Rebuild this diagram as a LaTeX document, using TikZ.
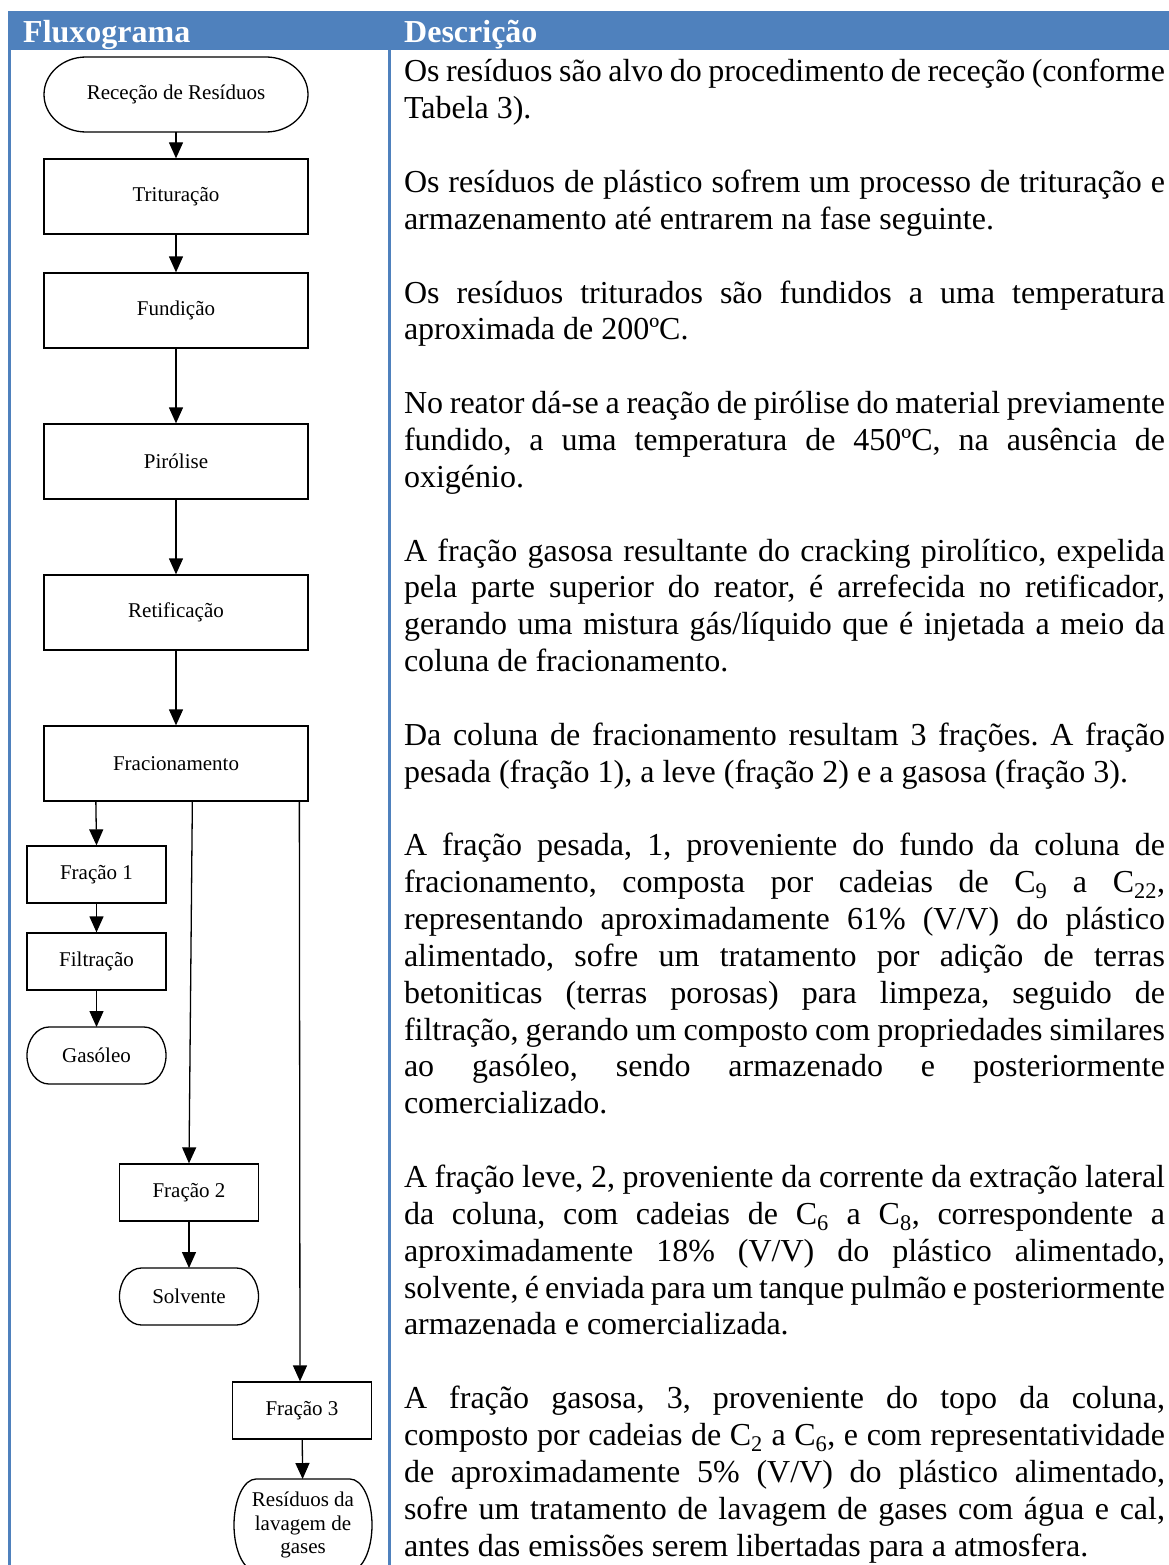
\documentclass[tikz,border=0pt]{standalone}
\usepackage{fontspec}
\setmainfont{Liberation Serif}
\usetikzlibrary{arrows.meta}
\frenchspacing
\definecolor{hdrblue}{RGB}{79,129,189}
\newcommand\descfont{\fontsize{32}{36.85}\selectfont\spaceskip=8pt plus 16pt minus 3pt\relax}
\newcommand\boxfont{\fontsize{21}{23.5}\selectfont}
% justified description line: name, line index, text
\newcommand\jl[3]{\node[desc] (#1) at (404,{82+#2*36.85}) {\makebox[761pt][s]{#3}};}
% last (ragged) line of a paragraph
\newcommand\rl[3]{\node[desc] (#1) at (404,{82+#2*36.85}) {#3};}
% terminator outline around a plain node: name, horizontal radius, vertical radius
\newcommand\termoutline[3]{%
  \draw[outline] ([xshift=#2pt]#1.north west) -- ([xshift=-#2pt]#1.north east)
    arc[start angle=90, end angle=-90, x radius=#2pt, y radius=#3pt]
    -- ([xshift=#2pt]#1.south west)
    arc[start angle=270, end angle=90, x radius=#2pt, y radius=#3pt] -- cycle;}
\begin{document}
\begin{tikzpicture}[x=1pt,y=-1pt,
  outline/.style={draw=black, line width=1.3pt},
  stepbox/.style={outline, rectangle, minimum width=264pt, minimum height=75pt, inner sep=0pt, font=\boxfont},
  smallbox/.style={outline, rectangle, minimum width=139pt, minimum height=57pt, inner sep=0pt, font=\boxfont},
  termnode/.style={rectangle, inner sep=0pt, outer sep=0pt, font=\boxfont, align=center},
  flow/.style={line width=1.3pt, -{Triangle[length=16pt,width=14pt]}},
  desc/.style={anchor=base west, inner sep=0pt, outer sep=0pt, font=\descfont},
  head/.style={anchor=base west, inner sep=0pt, text=white, font=\fontsize{32}{36}\selectfont\bfseries},
  rule/.style={draw=hdrblue, line width=2.6pt}
]
\useasboundingbox[fill=white] (0,0) rectangle (1169,1565);

% header band and column rules
\fill[hdrblue] (8,11) rectangle (1169,50);
\node[head] (h1) at (23,43) {Fluxograma};
\node[head] (h2) at (404,43) {Descrição};
\draw[rule] (9.3,50) -- (9.3,1565);
\draw[rule] (389.7,50) -- (389.7,1565);

% main process column
\node[termnode, minimum width=264pt, minimum height=75pt] (rec) at (176,94.5) {Receção de Resíduos};
\node[stepbox] (tri) at (176,196.5) {Trituração};
\node[stepbox] (fun) at (176,310.5) {Fundição};
\node[stepbox] (pir) at (176,461.5) {Pirólise};
\node[stepbox] (ret) at (176,612.5) {Retificação};
\node[stepbox] (fra) at (176,763.5) {Fracionamento};

% fraction branches
\node[smallbox] (f1) at (96.5,874.5) {Fração 1};
\node[smallbox] (fil) at (96.5,961.5) {Filtração};
\node[termnode, minimum width=139pt, minimum height=57pt] (gas) at (96.5,1055.5) {Gasóleo};
\node[smallbox] (f2) at (189,1192.5) {Fração 2};
\node[termnode, minimum width=139pt, minimum height=57pt] (sol) at (189,1296.5) {Solvente};
\node[smallbox] (f3) at (302,1410.5) {Fração 3};
\node[termnode, minimum width=138pt, minimum height=92pt] (res) at (303,1525) {Resíduos da\\lavagem de\\gases};

\termoutline{rec}{42}{37.5}
\termoutline{gas}{22}{28.5}
\termoutline{sol}{22}{28.5}
\termoutline{res}{22}{46}

% connectors
\draw[flow] (rec) -- (tri);
\draw[flow] (tri) -- (fun);
\draw[flow] (fun) -- (pir);
\draw[flow] (pir) -- (ret);
\draw[flow] (ret) -- (fra);
\draw[flow] ([xshift=52.5pt]fra.south west) -- (f1.north);
\draw[flow] (f1) -- (fil);
\draw[flow] (fil) -- (gas);
\draw[flow] ([xshift=149pt]fra.south west) -- (f2.north);
\draw[flow] (f2) -- (sol);
\draw[flow] ([xshift=256pt]fra.south west) -- ([xshift=-2pt]f3.north);
\draw[flow] (f3) -- (res);

% description column
\jl{a1}{0}{Os resíduos são alvo do procedimento de receção (conforme}
\rl{a2}{1}{Tabela 3).}

\jl{b1}{3}{Os resíduos de plástico sofrem um processo de trituração e}
\rl{b2}{4}{armazenamento até entrarem na fase seguinte.}

\jl{c1}{6}{Os resíduos triturados são fundidos a uma temperatura}
\rl{c2}{7}{aproximada de 200ºC.}

\jl{d1}{9}{No reator dá-se a reação de pirólise do material previamente}
\jl{d2}{10}{fundido, a uma temperatura de 450ºC, na ausência de}
\rl{d3}{11}{oxigénio.}

\jl{e1}{13}{A fração gasosa resultante do cracking pirolítico, expelida}
\jl{e2}{14}{pela parte superior do reator, é arrefecida no retificador,}
\jl{e3}{15}{gerando uma mistura gás/líquido que é injetada a meio da}
\rl{e4}{16}{coluna de fracionamento.}

\jl{g1}{18}{Da coluna de fracionamento resultam 3 frações. A fração}
\rl{g2}{19}{pesada (fração 1), a leve (fração 2) e a gasosa (fração 3).}

\jl{k1}{21}{A fração pesada, 1, proveniente do fundo da coluna de}
\jl{k2}{22}{fracionamento, composta por cadeias de C\textsubscript{9} a C\textsubscript{22},}
\jl{k3}{23}{representando aproximadamente 61\% (V/V) do plástico}
\jl{k4}{24}{alimentado, sofre um tratamento por adição de terras}
\jl{k5}{25}{betoniticas (terras porosas) para limpeza, seguido de}
\jl{k6}{26}{filtração, gerando um composto com propriedades similares}
\jl{k7}{27}{ao gasóleo, sendo armazenado e posteriormente}
\rl{k8}{28}{comercializado.}

\jl{m1}{30}{A fração leve, 2, proveniente da corrente da extração lateral}
\jl{m2}{31}{da coluna, com cadeias de C\textsubscript{6} a C\textsubscript{8}, correspondente a}
\jl{m3}{32}{aproximadamente 18\% (V/V) do plástico alimentado,}
\jl{m4}{33}{solvente, é enviada para um tanque pulmão e posteriormente}
\rl{m5}{34}{armazenada e comercializada.}

\jl{p1}{36}{A fração gasosa, 3, proveniente do topo da coluna,}
\jl{p2}{37}{composto por cadeias de C\textsubscript{2} a C\textsubscript{6}, e com representatividade}
\jl{p3}{38}{de aproximadamente 5\% (V/V) do plástico alimentado,}
\jl{p4}{39}{sofre um tratamento de lavagem de gases com água e cal,}
\rl{p5}{40}{antes das emissões serem libertadas para a atmosfera.}
\end{tikzpicture}
\end{document}
